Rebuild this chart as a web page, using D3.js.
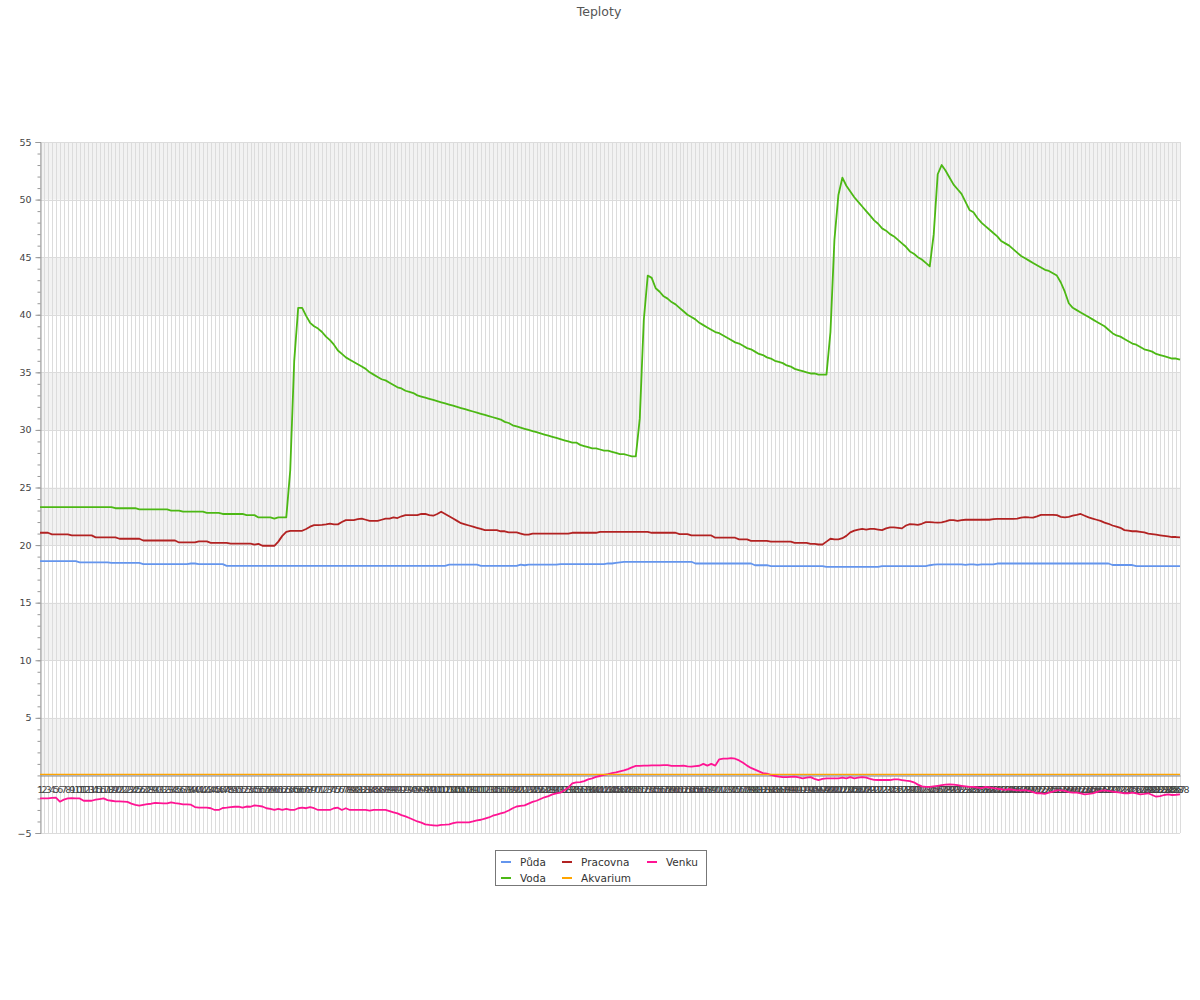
<!DOCTYPE html>
<html><head><meta charset="utf-8">
<script src="https://cdn.jsdelivr.net/npm/d3@7"></script>
<style>body{margin:0;background:#fff;} svg{display:block;font-family:"DejaVu Sans",sans-serif;}</style>
</head><body><svg id="c" width="1200" height="1000"></svg>
<script>
const chartTitle = "Teploty";
const seriesNames = ["Půda", "Voda", "Pracovna", "Akvarium", "Venku"];
const seriesColors = ["#6495ED", "#4CB814", "#B22222", "#FFA500", "#FF1493"];
const categories = d3.range(1, 289).map(String);
const yTickLabels = [-5, 5, 10, 15, 20, 25, 30, 35, 40, 45, 50, 55];
const yGridValues = [-5, 0, 5, 10, 15, 20, 25, 30, 35, 40, 45, 50, 55];

const puda = [
18.6,18.6,18.6,18.6,18.6,18.6,18.6,18.6,18.6,18.6,
18.5,18.5,18.5,18.5,18.5,18.5,18.5,18.5,18.45,18.45,
18.45,18.45,18.45,18.45,18.45,18.45,18.35,18.35,18.35,18.35,
18.35,18.35,18.35,18.35,18.35,18.35,18.35,18.35,18.4,18.4,
18.35,18.35,18.35,18.35,18.35,18.35,18.35,18.2,18.2,18.2,
18.2,18.2,18.2,18.2,18.2,18.2,18.2,18.2,18.2,18.2,
18.2,18.2,18.2,18.2,18.2,18.2,18.2,18.2,18.2,18.2,
18.2,18.2,18.2,18.2,18.2,18.2,18.2,18.2,18.2,18.2,
18.2,18.2,18.2,18.2,18.2,18.2,18.2,18.2,18.2,18.2,
18.2,18.2,18.2,18.2,18.2,18.2,18.2,18.2,18.2,18.2,
18.2,18.2,18.2,18.3,18.3,18.3,18.3,18.3,18.3,18.3,
18.3,18.2,18.2,18.2,18.2,18.2,18.2,18.2,18.2,18.2,
18.2,18.3,18.25,18.3,18.3,18.3,18.3,18.3,18.3,18.3,
18.3,18.35,18.35,18.35,18.35,18.35,18.35,18.35,18.35,18.35,
18.35,18.35,18.35,18.42,18.4,18.45,18.5,18.55,18.55,18.55,
18.55,18.55,18.55,18.55,18.55,18.55,18.55,18.55,18.55,18.55,
18.55,18.55,18.55,18.55,18.55,18.4,18.4,18.4,18.4,18.4,
18.4,18.4,18.4,18.4,18.4,18.4,18.4,18.4,18.4,18.4,
18.25,18.25,18.25,18.25,18.18,18.18,18.18,18.18,18.18,18.18,
18.18,18.18,18.18,18.18,18.18,18.18,18.18,18.18,18.1,18.1,
18.1,18.1,18.1,18.1,18.1,18.1,18.1,18.1,18.1,18.1,
18.1,18.1,18.18,18.18,18.18,18.18,18.18,18.18,18.18,18.18,
18.18,18.18,18.18,18.18,18.25,18.3,18.33,18.33,18.33,18.33,
18.33,18.33,18.33,18.28,18.33,18.33,18.28,18.33,18.33,18.33,
18.33,18.4,18.4,18.4,18.4,18.4,18.4,18.4,18.4,18.4,
18.4,18.4,18.4,18.4,18.4,18.4,18.4,18.4,18.4,18.4,
18.4,18.4,18.4,18.4,18.4,18.4,18.4,18.4,18.4,18.4,
18.27,18.27,18.27,18.27,18.27,18.27,18.18,18.18,18.18,18.18,
18.18,18.18,18.18,18.18,18.18,18.18,18.18,18.18];

const voda = [
23.3,23.3,23.3,23.3,23.3,23.3,23.3,23.3,23.3,23.3,
23.3,23.3,23.3,23.3,23.3,23.3,23.3,23.3,23.3,23.2,
23.2,23.2,23.2,23.2,23.2,23.1,23.1,23.1,23.1,23.1,
23.1,23.1,23.1,23.0,23.0,23.0,22.9,22.9,22.9,22.9,
22.9,22.9,22.8,22.8,22.8,22.8,22.7,22.7,22.7,22.7,
22.7,22.7,22.6,22.6,22.6,22.4,22.4,22.4,22.4,22.3,
22.4,22.4,22.4,26.5,36.0,40.6,40.6,39.9,39.3,39.0,
38.8,38.5,38.1,37.8,37.4,36.9,36.6,36.3,36.1,35.9,
35.7,35.5,35.3,35.0,34.8,34.6,34.4,34.3,34.1,33.9,
33.7,33.6,33.4,33.3,33.2,33.0,32.9,32.8,32.7,32.6,
32.5,32.4,32.3,32.2,32.1,32.0,31.9,31.8,31.7,31.6,
31.5,31.4,31.3,31.2,31.1,31.0,30.9,30.7,30.6,30.4,
30.3,30.2,30.1,30.0,29.9,29.8,29.7,29.6,29.5,29.4,
29.3,29.2,29.1,29.0,28.9,28.9,28.7,28.6,28.5,28.4,
28.4,28.3,28.2,28.2,28.1,28.0,27.9,27.9,27.8,27.7,
27.7,31.0,39.5,43.4,43.2,42.3,42.0,41.6,41.4,41.1,
40.9,40.6,40.3,40.0,39.8,39.6,39.3,39.1,38.9,38.7,
38.5,38.4,38.2,38.0,37.8,37.6,37.5,37.3,37.1,37.0,
36.8,36.6,36.5,36.3,36.2,36.0,35.9,35.8,35.6,35.5,
35.3,35.2,35.1,35.0,34.9,34.9,34.8,34.8,34.8,38.5,
46.5,50.4,51.9,51.2,50.7,50.2,49.8,49.4,49.0,48.6,
48.2,47.9,47.5,47.3,47.0,46.8,46.5,46.2,45.9,45.5,
45.3,45.0,44.8,44.5,44.2,47.0,52.2,53.0,52.5,51.9,
51.3,50.9,50.5,49.8,49.1,48.9,48.4,48.0,47.7,47.4,
47.1,46.8,46.4,46.2,46.0,45.7,45.4,45.1,44.9,44.7,
44.5,44.3,44.1,43.9,43.8,43.6,43.4,42.8,42.0,41.0,
40.6,40.4,40.2,40.0,39.8,39.6,39.4,39.2,39.0,38.7,
38.4,38.2,38.1,37.9,37.7,37.5,37.4,37.2,37.0,36.9,
36.8,36.6,36.5,36.4,36.3,36.2,36.2,36.1];

const pracovna = [
21.07,21.07,21.07,20.93,20.93,20.93,20.93,20.93,20.84,20.84,
20.84,20.84,20.84,20.84,20.67,20.67,20.67,20.67,20.67,20.67,
20.55,20.55,20.55,20.55,20.55,20.55,20.4,20.4,20.4,20.4,
20.4,20.4,20.4,20.4,20.4,20.23,20.23,20.23,20.23,20.23,
20.32,20.32,20.32,20.2,20.2,20.2,20.2,20.2,20.12,20.12,
20.12,20.12,20.12,20.12,20.03,20.1,19.94,19.94,19.94,19.94,
20.3,20.8,21.15,21.24,21.24,21.24,21.24,21.4,21.6,21.73,
21.73,21.75,21.8,21.87,21.8,21.8,22.0,22.17,22.17,22.17,
22.25,22.3,22.2,22.1,22.1,22.1,22.2,22.3,22.3,22.4,
22.35,22.5,22.6,22.6,22.6,22.6,22.7,22.7,22.6,22.55,
22.7,22.9,22.7,22.5,22.3,22.1,21.9,21.8,21.7,21.6,
21.5,21.4,21.3,21.3,21.3,21.3,21.2,21.2,21.1,21.1,
21.1,21.0,20.9,20.9,21.0,21.0,21.0,21.0,21.0,21.0,
21.0,21.0,21.0,21.0,21.07,21.07,21.07,21.07,21.07,21.07,
21.07,21.15,21.15,21.15,21.15,21.15,21.15,21.15,21.15,21.15,
21.15,21.15,21.15,21.15,21.07,21.07,21.07,21.07,21.07,21.07,
21.07,20.95,20.95,20.95,20.84,20.84,20.84,20.84,20.84,20.84,
20.64,20.64,20.64,20.64,20.64,20.64,20.5,20.5,20.5,20.37,
20.37,20.37,20.37,20.37,20.3,20.3,20.3,20.3,20.3,20.3,
20.2,20.2,20.2,20.2,20.1,20.1,20.05,20.05,20.3,20.55,
20.5,20.5,20.6,20.8,21.1,21.25,21.35,21.4,21.35,21.4,
21.4,21.35,21.3,21.45,21.53,21.53,21.5,21.45,21.7,21.82,
21.8,21.75,21.85,22.0,22.0,21.97,21.95,21.97,22.05,22.17,
22.17,22.1,22.17,22.2,22.2,22.2,22.2,22.2,22.2,22.2,
22.25,22.28,22.28,22.28,22.28,22.28,22.3,22.38,22.43,22.4,
22.38,22.5,22.63,22.63,22.63,22.63,22.6,22.45,22.4,22.45,
22.55,22.62,22.7,22.55,22.4,22.3,22.2,22.1,21.95,21.85,
21.7,21.6,21.5,21.3,21.25,21.2,21.2,21.15,21.1,21.0,
20.95,20.9,20.85,20.8,20.75,20.7,20.7,20.67];

const akvarium = [
0,0,0,0,0,0,0,0,0,0, 0,0,0,0,0,0,0,0,0,0, 0,0,0,0,0,0,0,0,0,0,
0,0,0,0,0,0,0,0,0,0, 0,0,0,0,0,0,0,0,0,0, 0,0,0,0,0,0,0,0,0,0,
0,0,0,0,0,0,0,0,0,0, 0,0,0,0,0,0,0,0,0,0, 0,0,0,0,0,0,0,0,0,0,
0,0,0,0,0,0,0,0,0,0, 0,0,0,0,0,0,0,0,0,0, 0,0,0,0,0,0,0,0,0,0,
0,0,0,0,0,0,0,0,0,0, 0,0,0,0,0,0,0,0,0,0, 0,0,0,0,0,0,0,0,0,0,
0,0,0,0,0,0,0,0,0,0, 0,0,0,0,0,0,0,0,0,0, 0,0,0,0,0,0,0,0,0,0,
0,0,0,0,0,0,0,0,0,0, 0,0,0,0,0,0,0,0,0,0, 0,0,0,0,0,0,0,0,0,0,
0,0,0,0,0,0,0,0,0,0, 0,0,0,0,0,0,0,0,0,0, 0,0,0,0,0,0,0,0,0,0,
0,0,0,0,0,0,0,0,0,0, 0,0,0,0,0,0,0,0,0,0, 0,0,0,0,0,0,0,0,0,0,
0,0,0,0,0,0,0,0,0,0, 0,0,0,0,0,0,0,0];

const venku = [
-2.0,-2.0,-2.0,-1.95,-1.93,-2.28,-2.1,-2.0,-1.97,-2.0,
-2.0,-2.2,-2.2,-2.2,-2.1,-2.05,-2.0,-2.15,-2.2,-2.25,
-2.25,-2.27,-2.3,-2.45,-2.55,-2.63,-2.55,-2.5,-2.46,-2.38,
-2.4,-2.43,-2.43,-2.34,-2.4,-2.45,-2.51,-2.52,-2.54,-2.75,
-2.8,-2.8,-2.8,-2.85,-3.0,-3.0,-2.83,-2.8,-2.75,-2.72,
-2.72,-2.8,-2.7,-2.72,-2.6,-2.65,-2.7,-2.85,-2.9,-3.0,
-2.9,-3.0,-2.9,-3.0,-3.0,-2.85,-2.8,-2.85,-2.75,-2.85,
-3.0,-3.0,-3.0,-3.0,-2.85,-2.8,-3.0,-2.85,-3.0,-3.0,
-3.0,-3.0,-3.0,-3.05,-3.0,-3.0,-3.0,-3.0,-3.1,-3.2,
-3.3,-3.45,-3.55,-3.7,-3.85,-4.0,-4.1,-4.25,-4.3,-4.33,
-4.36,-4.3,-4.28,-4.25,-4.15,-4.07,-4.07,-4.07,-4.07,-4.0,
-3.9,-3.85,-3.75,-3.65,-3.5,-3.4,-3.3,-3.2,-3.05,-2.85,
-2.7,-2.65,-2.6,-2.45,-2.3,-2.2,-2.05,-1.9,-1.8,-1.65,
-1.55,-1.5,-1.3,-1.05,-0.7,-0.6,-0.58,-0.5,-0.35,-0.25,
-0.12,-0.05,0.05,0.12,0.2,0.27,0.35,0.43,0.55,0.7,
0.82,0.83,0.85,0.85,0.87,0.88,0.88,0.9,0.9,0.82,
0.82,0.82,0.85,0.78,0.76,0.8,0.84,1.0,0.85,1.0,
0.85,1.4,1.45,1.45,1.5,1.45,1.3,1.1,0.85,0.65,
0.5,0.35,0.2,0.15,0.05,-0.05,-0.1,-0.15,-0.15,-0.12,
-0.1,-0.18,-0.25,-0.2,-0.15,-0.3,-0.4,-0.3,-0.25,-0.25,
-0.25,-0.25,-0.2,-0.25,-0.15,-0.25,-0.2,-0.15,-0.2,-0.3,
-0.38,-0.4,-0.4,-0.4,-0.4,-0.35,-0.34,-0.4,-0.46,-0.5,
-0.6,-0.8,-0.95,-1.0,-1.0,-0.95,-0.9,-0.85,-0.8,-0.77,
-0.8,-0.85,-0.9,-0.95,-1.0,-1.0,-1.05,-1.1,-1.0,-1.05,
-1.1,-1.15,-1.2,-1.25,-1.2,-1.25,-1.3,-1.3,-1.27,-1.35,
-1.45,-1.55,-1.55,-1.6,-1.5,-1.4,-1.3,-1.3,-1.35,-1.45,
-1.5,-1.5,-1.55,-1.64,-1.6,-1.55,-1.45,-1.35,-1.3,-1.35,
-1.4,-1.45,-1.5,-1.55,-1.55,-1.5,-1.55,-1.64,-1.6,-1.55,
-1.7,-1.85,-1.8,-1.7,-1.64,-1.7,-1.68,-1.64];

const seriesValues = [puda, voda, pracovna, akvarium, venku];

const svg = d3.select("#c");
const pLeft = 40, pRight = 1180, pTop = 142, pBottom = 833;
const x = d3.scalePoint().domain(categories).range([pLeft, pRight]);
const y = d3.scaleLinear().domain([-5, 55]).range([pBottom, pTop]);

svg.append("text").attr("x", 599).attr("y", 16).attr("text-anchor", "middle")
  .attr("font-size", "12.5px").attr("fill", "#555").text(chartTitle);

const g = svg.append("g");
g.selectAll("rect.band").data(yGridValues.filter(v => v < 55 && ((v / 5) % 2 === 0)))
  .enter().append("rect")
  .attr("x", pLeft).attr("width", pRight - pLeft)
  .attr("y", d => y(d + 5)).attr("height", d => y(d) - y(d + 5))
  .attr("fill", "#f2f2f2");
g.selectAll("line.vg").data(categories).enter().append("line")
  .attr("x1", d => Math.round(x(d)) + 0.5).attr("x2", d => Math.round(x(d)) + 0.5)
  .attr("y1", pTop).attr("y2", pBottom)
  .attr("stroke", "#dcdcdc").attr("stroke-width", 1);
g.selectAll("line.hg").data(yGridValues).enter().append("line")
  .attr("x1", pLeft).attr("x2", pRight)
  .attr("y1", d => Math.round(y(d)) + 0.5).attr("y2", d => Math.round(y(d)) + 0.5)
  .attr("stroke", "#dcdcdc").attr("stroke-width", 1);

const yAxis = d3.axisLeft(y).tickValues(yTickLabels).tickSize(5).tickPadding(4).tickFormat(d3.format("d"));
const ya = svg.append("g").attr("transform", `translate(${pLeft + 0.5},0)`).call(yAxis);
ya.select(".domain").attr("stroke", "#999");
ya.selectAll(".tick line").attr("stroke", "#999");
ya.selectAll(".tick text").attr("fill", "#444").attr("font-size", "9.5px").attr("font-family", "DejaVu Sans");
const minor = svg.append("g").attr("transform", `translate(${pLeft + 0.5},0)`)
  .call(d3.axisLeft(y).ticks(60).tickSize(3).tickFormat(""));
minor.select(".domain").remove();
minor.selectAll(".tick line").attr("stroke", "#999");

const xAxis = d3.axisBottom(x).tickSize(0).tickPadding(11);
const xa = svg.append("g").attr("transform", `translate(0,${Math.round(y(0)) + 0.5})`);

const line = d3.line().x((d, i) => x(categories[i])).y(d => y(d));
seriesValues.forEach((vals, k) => {
  if (k === 3) return;
  svg.append("path").datum(vals).attr("d", line)
    .attr("fill", "none").attr("stroke", seriesColors[k]).attr("stroke-width", 1.8)
    .attr("stroke-linejoin", "round");
});

xa.call(xAxis);
xa.select(".domain").attr("stroke", "#888");
xa.selectAll(".tick text").attr("fill", "#444").attr("font-size", "9.5px").attr("font-family", "DejaVu Sans");
svg.append("path").datum(akvarium).attr("d", line).attr("transform", "translate(0,-1)")
  .attr("fill", "none").attr("stroke", seriesColors[3]).attr("stroke-width", 1.3);

const lg = svg.append("g");
lg.append("rect").attr("x", 495.5).attr("y", 850.5).attr("width", 211).attr("height", 35)
  .attr("fill", "#fff").attr("stroke", "#777");
const legendPos = [[501, 862], [501, 878], [562, 862], [562, 878], [647, 862]];
seriesNames.forEach((name, k) => {
  const [lx, ly] = legendPos[k];
  lg.append("line").attr("x1", lx).attr("x2", lx + 10).attr("y1", ly).attr("y2", ly)
    .attr("stroke", seriesColors[k]).attr("stroke-width", 2);
  lg.append("text").attr("x", lx + 19).attr("y", ly + 3.5).attr("font-size", "10.5px")
    .attr("fill", "#333").text(name);
});
</script></body></html>
